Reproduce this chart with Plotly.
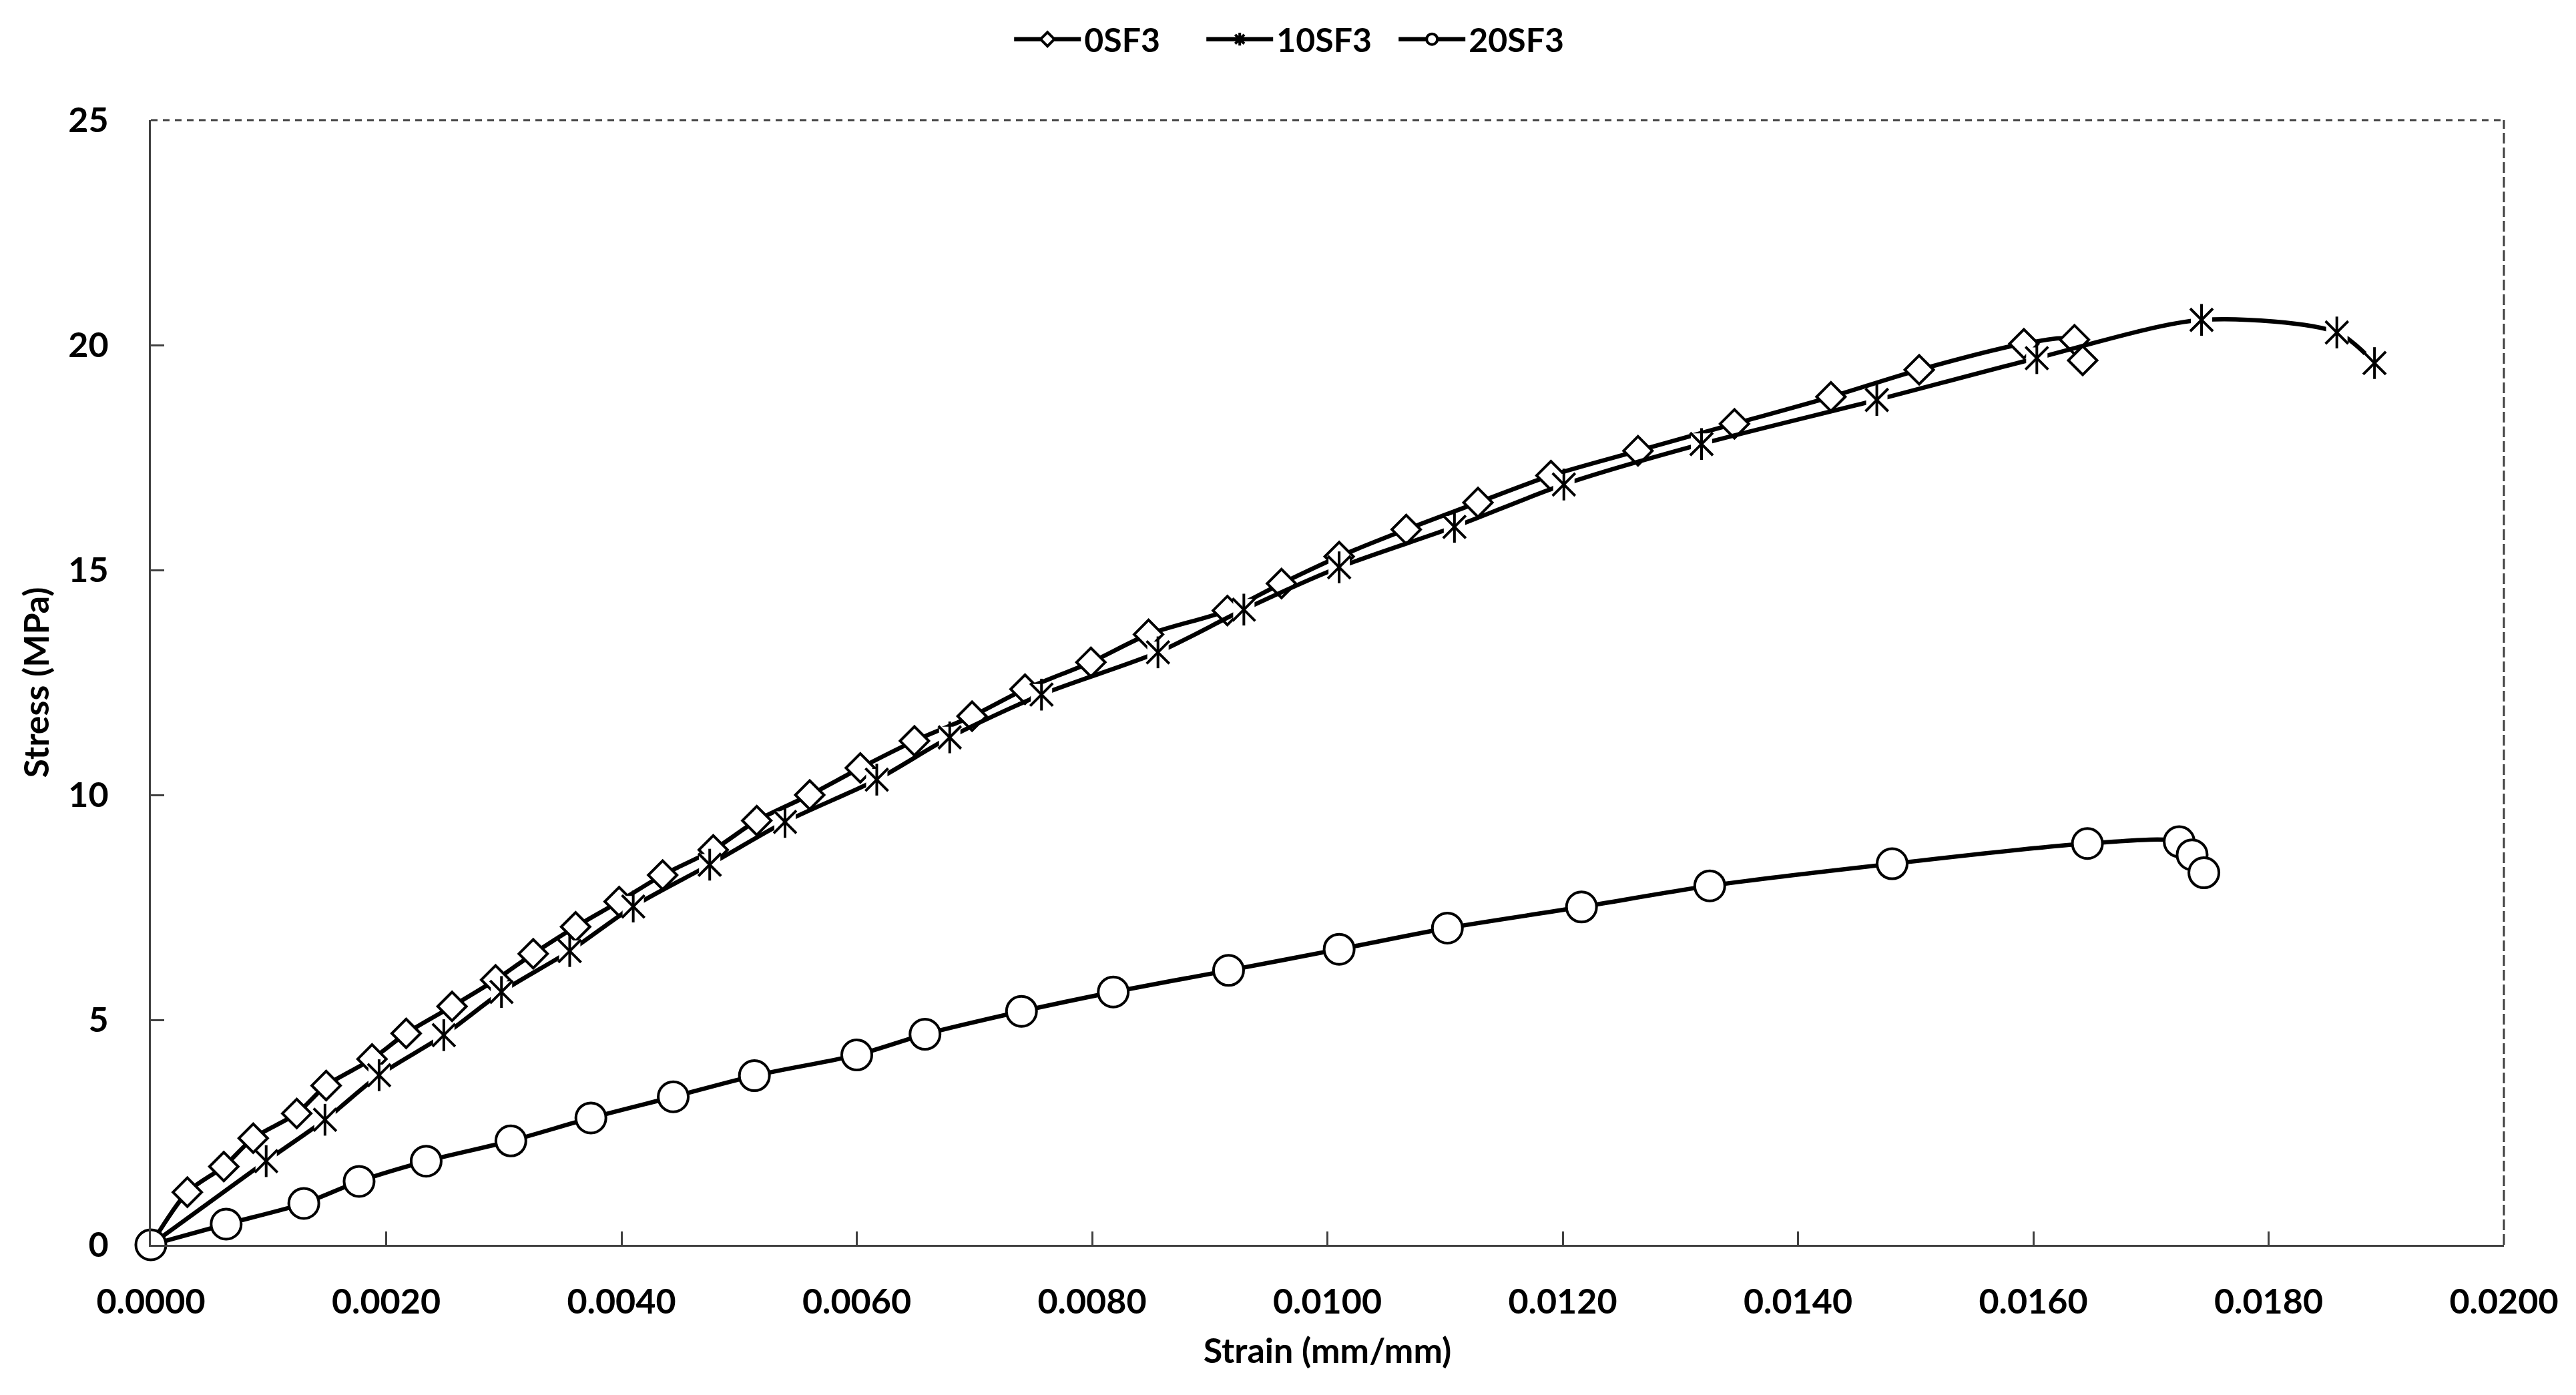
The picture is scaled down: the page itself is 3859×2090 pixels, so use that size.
import plotly.graph_objects as go

# ---- data ----
strain_0sf3 = [0, 0.00031, 0.00062, 0.00087, 0.00124, 0.00149, 0.00188, 0.00217, 0.00256, 0.00293,
               0.00325, 0.00361, 0.00398, 0.00435, 0.00478, 0.00515, 0.00560, 0.00603, 0.00649, 0.00698,
               0.00743, 0.00799, 0.00848, 0.00915, 0.00961, 0.01010, 0.01067, 0.01128, 0.01190, 0.01264,
               0.01346, 0.01428, 0.01503, 0.01592, 0.01635, 0.01642]
stress_0sf3 = [0, 1.17, 1.74, 2.37, 2.92, 3.54, 4.13, 4.70, 5.30, 5.89,
               6.47, 7.07, 7.63, 8.22, 8.78, 9.43, 10.0, 10.6, 11.2, 11.75,
               12.35, 12.95, 13.57, 14.1, 14.7, 15.3, 15.9, 16.5, 17.1, 17.65,
               18.25, 18.85, 19.45, 20.03, 20.12, 19.66]

strain_10sf3 = [0, 0.00098, 0.00148, 0.00194, 0.00249, 0.00298, 0.00356, 0.00410, 0.00475, 0.00539,
                0.00617, 0.00679, 0.00757, 0.00856, 0.00929, 0.01010, 0.01108, 0.01201, 0.01318, 0.01467,
                0.01603, 0.01743, 0.01858, 0.01890]
stress_10sf3 = [0, 1.86, 2.78, 3.77, 4.66, 5.62, 6.53, 7.52, 8.45, 9.40,
                10.34, 11.28, 12.23, 13.17, 14.12, 15.06, 15.96, 16.9, 17.8, 18.78,
                19.71, 20.56, 20.28, 19.60]

strain_20sf3 = [0, 0.00064, 0.00130, 0.00177, 0.00234, 0.00306, 0.00374, 0.00444, 0.00513, 0.00600,
                0.00658, 0.00740, 0.00818, 0.00916, 0.01010, 0.01102, 0.01216, 0.01325, 0.01480, 0.01646,
                0.01724, 0.01735, 0.01745]
stress_20sf3 = [0, 0.46, 0.92, 1.41, 1.86, 2.31, 2.82, 3.29, 3.76, 4.22,
                4.68, 5.19, 5.62, 6.10, 6.57, 7.04, 7.51, 7.98, 8.47, 8.92,
                8.96, 8.67, 8.27]

series_names = ["0SF3", "10SF3", "20SF3"]
x_ticks = [0.0, 0.002, 0.004, 0.006, 0.008, 0.010, 0.012, 0.014, 0.016, 0.018, 0.020]
y_ticks = [0, 5, 10, 15, 20, 25]

FONT = "Lato"
AX = "#404040"
LW = 6.5

fig = go.Figure()

# 0SF3 - diamonds
fig.add_trace(go.Scatter(
    x=strain_0sf3, y=stress_0sf3, name=series_names[0], mode="lines+markers",
    line=dict(color="black", width=LW, shape="spline", smoothing=0.8),
    marker=dict(symbol="diamond", size=33, color="white", line=dict(color="black", width=4)),
    cliponaxis=False))

# 10SF3 - star (line + legend entry)
fig.add_trace(go.Scatter(
    x=strain_10sf3, y=stress_10sf3, name=series_names[1], mode="lines+markers",
    line=dict(color="black", width=LW, shape="spline", smoothing=0.8),
    marker=dict(symbol="asterisk-open", size=24, color="black", line=dict(color="black", width=4)),
    cliponaxis=False))
# white background behind stars (gap in the line)
fig.add_trace(go.Scatter(
    x=strain_10sf3, y=stress_10sf3, mode="markers", showlegend=False, hoverinfo="skip",
    marker=dict(symbol="square", size=32, color="white", line=dict(width=0)),
    cliponaxis=False))
fig.add_trace(go.Scatter(
    x=strain_10sf3, y=stress_10sf3, mode="markers", showlegend=False, hoverinfo="skip",
    marker=dict(symbol="x-thin-open", size=34, color="black", line=dict(color="black", width=4)),
    cliponaxis=False))
fig.add_trace(go.Scatter(
    x=strain_10sf3, y=stress_10sf3, mode="markers", showlegend=False, hoverinfo="skip",
    marker=dict(symbol="line-ns-open", size=34, color="black", line=dict(color="black", width=4)),
    cliponaxis=False))

# 20SF3 - circles
fig.add_trace(go.Scatter(
    x=strain_20sf3, y=stress_20sf3, name=series_names[2], mode="lines+markers",
    line=dict(color="black", width=LW, shape="spline", smoothing=0.8),
    marker=dict(symbol="circle", size=45, color="white", line=dict(color="black", width=4)),
    cliponaxis=False))

tickfont = dict(family=FONT, size=52, color="black", weight="bold")

# page body has a default 8px margin: figure sized so that it fills the window exactly
fig.update_layout(
    width=3851, height=2082,
    margin=dict(l=218, r=108, t=162, b=225),
    paper_bgcolor="white", plot_bgcolor="white",
    font=dict(family=FONT, color="black"),
    showlegend=True,
    legend=dict(orientation="h", x=0.488, xanchor="center", y=1.072, yanchor="middle",
                font=dict(family=FONT, size=50, color="black", weight="bold"),
                itemwidth=100, entrywidth=173, entrywidthmode="pixels",
                bgcolor="rgba(0,0,0,0)", traceorder="normal"),
    xaxis=dict(range=[0, 0.02], tickvals=x_ticks, tickformat=".4f",
               showline=True, linecolor=AX, linewidth=3, mirror=False,
               ticks="inside", ticklen=20, tickwidth=3, tickcolor=AX,
               showgrid=False, zeroline=False, tickfont=tickfont, ticklabelstandoff=38,
               title=dict(text="Strain (mm/mm)", font=dict(family=FONT, size=52, color="black", weight="bold"),
                          standoff=28)),
    yaxis=dict(range=[0, 25], tickvals=y_ticks,
               showline=True, linecolor=AX, linewidth=3, mirror=False,
               ticks="inside", ticklen=20, tickwidth=3, tickcolor=AX,
               showgrid=False, zeroline=False, tickfont=tickfont, ticklabelstandoff=50,
               title=dict(text="Stress (MPa)", font=dict(family=FONT, size=52, color="black", weight="bold"),
                          standoff=13)),
    shapes=[
        dict(type="line", xref="paper", yref="paper", x0=0, x1=1, y0=1, y1=1,
             line=dict(color=AX, width=3, dash="10px,8px")),
        dict(type="line", xref="paper", yref="paper", x0=1, x1=1, y0=0, y1=1,
             line=dict(color=AX, width=3, dash="16px,6px")),
    ],
)

fig.write_html("out.html")
